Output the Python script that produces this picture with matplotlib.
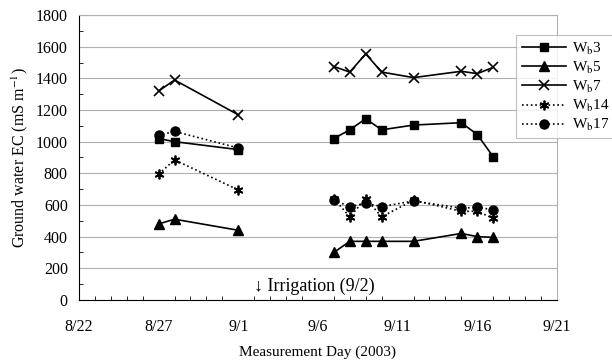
import numpy as np
import matplotlib.pyplot as plt
import matplotlib.dates as mdates
from datetime import date

plt.rcParams['font.family'] = ['Liberation Serif', 'DejaVu Serif']
plt.rcParams['mathtext.fontset'] = 'stix'

# measurement dates (two campaigns, lines not joined between them)
days1 = [date(2003, 8, 27), date(2003, 8, 28), date(2003, 9, 1)]
days2 = [date(2003, 9, 7), date(2003, 9, 8), date(2003, 9, 9), date(2003, 9, 10),
         date(2003, 9, 12), date(2003, 9, 15), date(2003, 9, 16), date(2003, 9, 17)]

wb3_1 = [1020, 1000, 950]
wb3_2 = [1020, 1075, 1145, 1075, 1105, 1120, 1045, 905]
wb5_1 = [480, 510, 440]
wb5_2 = [300, 370, 370, 370, 370, 420, 400, 395]
wb7_1 = [1320, 1390, 1170]
wb7_2 = [1475, 1440, 1555, 1440, 1405, 1445, 1430, 1470]
wb14_1 = [795, 885, 695]
wb14_2 = [640, 525, 640, 525, 630, 560, 560, 515]
wb17_1 = [1040, 1065, 960]
wb17_2 = [630, 590, 610, 590, 625, 580, 585, 570]

series = [
    ('W$_\\mathrm{b}$3', wb3_1, wb3_2, dict(ls='-', marker='s', ms=6)),
    ('W$_\\mathrm{b}$5', wb5_1, wb5_2, dict(ls='-', marker='^', ms=6.5)),
    ('W$_\\mathrm{b}$7', wb7_1, wb7_2, dict(ls='-', marker='x', ms=7, mew=1.2)),
    ('W$_\\mathrm{b}$14', wb14_1, wb14_2, dict(ls=':', marker=(6, 2, 0), ms=7, mew=1.3)),
    ('W$_\\mathrm{b}$17', wb17_1, wb17_2, dict(ls=':', marker='o', ms=6.5)),
]

fig = plt.figure(figsize=(6.12, 3.6), dpi=100)
ax = fig.add_axes([0.129, 0.167, 0.781, 0.791])

for name, v1, v2, st in series:
    ax.plot(days1, v1, color='black', lw=1.2, label=name, **st)
    ax.plot(days2, v2, color='black', lw=1.2, **st)

ax.set_xlim(date(2003, 8, 22), date(2003, 9, 21))
ax.set_ylim(0, 1800)
ax.set_yticks(np.arange(0, 1801, 200))
ax.set_yticks(np.arange(0, 1801, 100), minor=True)
ticks = [date(2003, 8, 22), date(2003, 8, 27), date(2003, 9, 1), date(2003, 9, 6),
         date(2003, 9, 11), date(2003, 9, 16), date(2003, 9, 21)]
ax.set_xticks(ticks)
ax.set_xticklabels(['8/22', '8/27', '9/1', '9/6', '9/11', '9/16', '9/21'])
ax.xaxis.set_minor_locator(mdates.DayLocator())
ax.tick_params(axis='both', which='both', direction='in', labelsize=11.5)
ax.tick_params(axis='x', which='major', length=0, pad=14)
ax.tick_params(axis='x', which='minor', length=3)
ax.tick_params(axis='y', which='major', length=0, pad=8)
ax.tick_params(axis='y', which='minor', length=3)
ax.grid(axis='y', color='#b0b0b0', lw=0.8)
for s in ['top', 'right']:
    ax.spines[s].set_color('#b0b0b0')

ax.set_xlabel('Measurement Day (2003)', fontsize=11, labelpad=7)
ax.set_ylabel('Ground water EC (mS m$^{\\mathrm{-1}}$)', fontsize=11.5)

ax.text(date(2003, 9, 2), 30, '\u2193 Irrigation (9/2)', fontsize=13, ha='left', va='bottom',
        family=['Liberation Serif', 'DejaVu Serif'])

leg = ax.legend(loc='upper left', bbox_to_anchor=(0.915, 0.93), frameon=True, fancybox=False,
                edgecolor='#b0b0b0', fontsize=11, handlelength=2.9, handletextpad=0.4,
                borderpad=0.35, borderaxespad=0, labelspacing=0.2)
leg.get_frame().set_linewidth(0.8)
leg.set_clip_on(False)

fig.savefig('out.png', dpi=100)
